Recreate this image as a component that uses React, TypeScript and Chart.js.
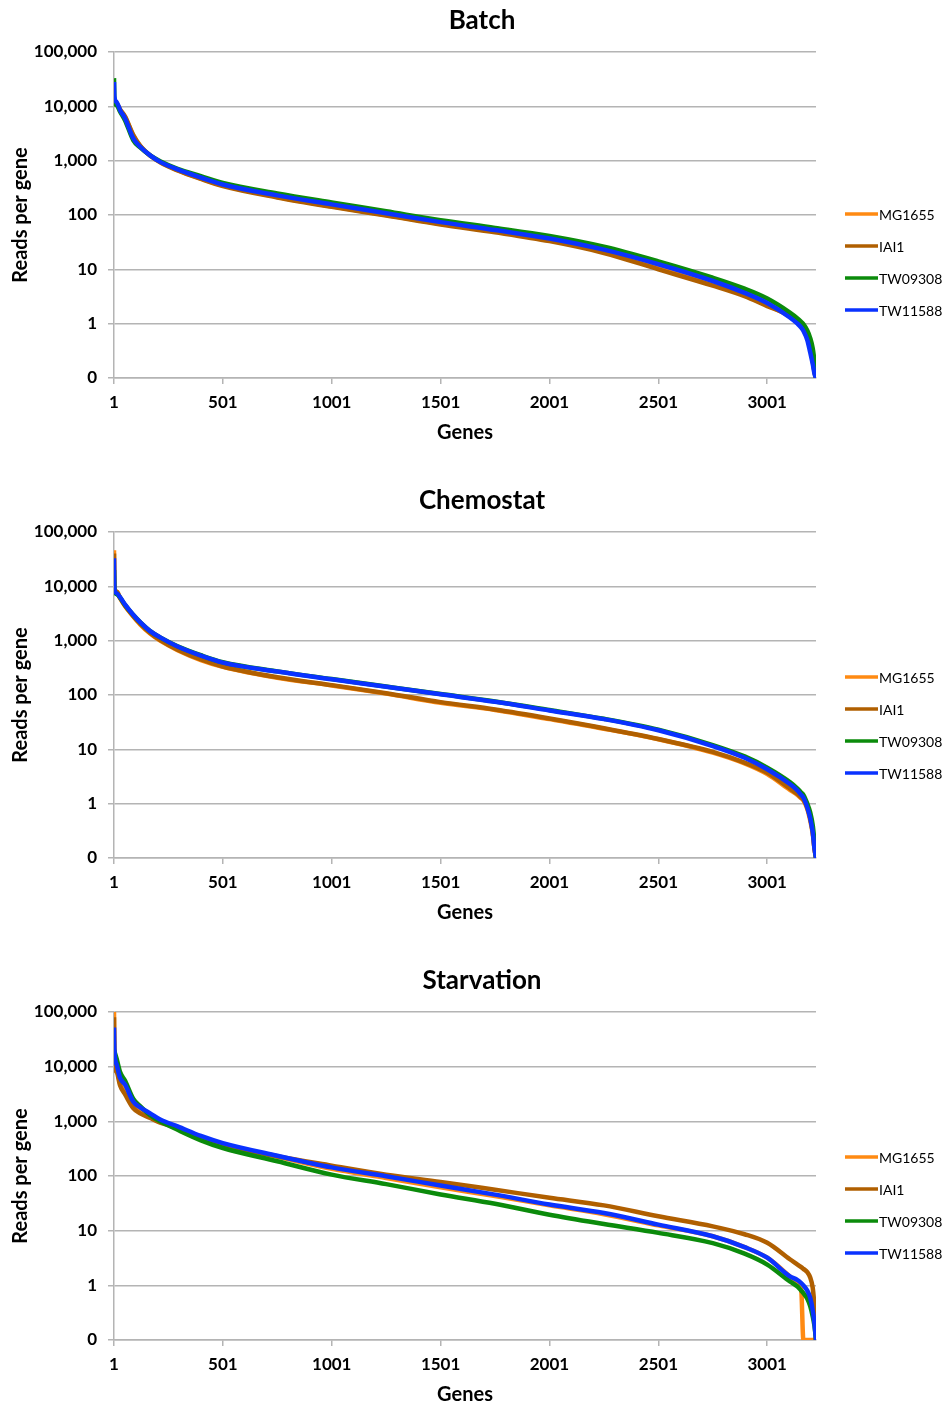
import React, { useEffect, useRef } from "react";
import { Chart, registerables } from "chart.js";
Chart.register(...registerables);

if (typeof document !== "undefined") {
  document.documentElement.style.overflow = "hidden";
  document.body.style.margin = "0";
}

const GENES = [1, 3, 13, 29, 52, 89, 121, 167, 213, 293, 400, 501, 751, 1001, 1251, 1501, 1751, 2001, 2251, 2501, 2751, 2897, 3001, 3105, 3140, 3157, 3167, 3185, 3198, 3210, 3218, 3225];
const X_TICKS = [1, 501, 1001, 1501, 2001, 2501, 3001];
const Y_TICKS = [0.1, 1, 10, 100, 1000, 10000, 100000];
const SERIES_NAMES = ["MG1655", "IAI1", "TW09308", "TW11588"];
const SERIES_COLORS = ["#FF8A12", "#B05F00", "#0B8B0B", "#0A32FF"];

// Batch
const BATCH_MG1655 = [12000, 11500, 11000, 8500, 6300, 2900, 1850, 1230, 940, 670, 470, 350, 215, 145, 100, 69, 50, 35, 21, 11, 5.4, 3.4, 2.2, 1.35, 1.05, 0.88, 0.78, 0.58, 0.38, 0.2, 0.13, 0.1];
const BATCH_IAI1 = [13000, 12500, 11500, 8800, 6500, 3000, 1900, 1250, 930, 660, 460, 340, 210, 141, 98, 67, 48, 33, 20, 10, 5.0, 3.2, 2.1, 1.4, 1.1, 0.9, 0.8, 0.6, 0.4, 0.22, 0.13, 0.1];
const BATCH_TW09308 = [33000, 12000, 10500, 8000, 5500, 2400, 1750, 1250, 980, 710, 520, 390, 250, 170, 117, 80, 58, 41, 26, 14, 7.0, 4.4, 2.9, 1.6, 1.25, 1.08, 0.98, 0.75, 0.55, 0.35, 0.2, 0.1];
const BATCH_TW11588 = [28000, 15000, 12000, 8500, 6000, 2600, 1800, 1250, 950, 690, 490, 365, 230, 157, 108, 74, 53, 37, 23, 12.4, 6.1, 3.7, 2.4, 1.3, 1.0, 0.85, 0.74, 0.5, 0.3, 0.18, 0.12, 0.1];

// Chemostat
const CHEMO_MG1655 = [46000, 9500, 7800, 6000, 4300, 2800, 2000, 1350, 1000, 670, 440, 330, 208, 150, 106, 72, 53, 36, 24, 15.3, 8.7, 5.5, 3.5, 1.8, 1.45, 1.25, 1.15, 0.8, 0.5, 0.28, 0.15, 0.1];
const CHEMO_IAI1 = [40000, 9000, 8000, 6200, 4400, 2850, 2050, 1380, 1020, 680, 450, 335, 212, 152, 108, 74, 54, 37, 24.5, 15.5, 9, 5.7, 3.7, 1.9, 1.5, 1.3, 1.2, 0.85, 0.55, 0.3, 0.15, 0.1];
const CHEMO_TW09308 = [20000, 8500, 7200, 6200, 4500, 3000, 2200, 1500, 1150, 790, 540, 400, 272, 197, 143, 104, 76, 53, 36.5, 23, 12, 7.4, 4.6, 2.5, 1.9, 1.6, 1.45, 1.0, 0.7, 0.4, 0.2, 0.1];
const CHEMO_TW11588 = [33000, 9000, 7500, 6300, 4600, 3000, 2200, 1500, 1150, 780, 530, 395, 270, 195, 142, 103, 75, 52, 36, 22.4, 11.5, 7.0, 4.3, 2.3, 1.75, 1.45, 1.3, 0.85, 0.55, 0.3, 0.15, 0.1];

// Starvation
const STARV_MG1655 = [100000, 15000, 9000, 5000, 3300, 2000, 1600, 1250, 1000, 760, 500, 370, 225, 135, 92, 62, 43, 29, 20, 12.5, 7.9, 5.0, 3.2, 1.46, 1.1, 0.85, 0.1, 0.1, 0.1, 0.1, 0.1, 0.1];
const STARV_IAI1 = [80000, 12000, 8000, 4500, 3100, 1750, 1400, 1150, 950, 760, 510, 370, 230, 155, 106, 78, 56, 40, 29, 18.3, 12, 8.6, 6.0, 3.0, 2.4, 2.15, 2.0, 1.75, 1.4, 0.9, 0.4, 0.1];
const STARV_TW09308 = [20000, 19000, 14000, 8000, 5500, 2600, 1900, 1300, 1000, 700, 450, 325, 186, 106, 71, 46, 31, 19.6, 13.2, 9.1, 5.9, 3.8, 2.4, 1.18, 0.95, 0.8, 0.72, 0.57, 0.42, 0.27, 0.18, 0.1];
const STARV_TW11588 = [52000, 20000, 11000, 6200, 4700, 2300, 1800, 1400, 1080, 810, 540, 400, 235, 144, 99, 67, 45.6, 30, 21, 12.9, 7.9, 5.0, 3.2, 1.46, 1.25, 1.1, 1.0, 0.8, 0.6, 0.35, 0.2, 0.1];

const FONT = "Lato, 'Open Sans', sans-serif";
const GRID = "#b4b4b4";

type PanelDef = {
  title: string;
  series: number[][];
  padBottom: number;
  legendTop: number;
};

const PANELS: PanelDef[] = [
  { title: "Batch", series: [BATCH_MG1655, BATCH_IAI1, BATCH_TW09308, BATCH_TW11588], padBottom: 52, legendTop: 206 },
  { title: "Chemostat", series: [CHEMO_MG1655, CHEMO_IAI1, CHEMO_TW09308, CHEMO_TW11588], padBottom: 52, legendTop: 189 },
  { title: "Starvation", series: [STARV_MG1655, STARV_IAI1, STARV_TW09308, STARV_TW11588], padBottom: 50, legendTop: 189 },
];

function Panel({ def }: { def: PanelDef }) {
  const ref = useRef<HTMLCanvasElement | null>(null);
  useEffect(() => {
    if (!ref.current) return;
    const decor = {
      id: "decor",
      afterDraw(chart: any) {
        const ctx = chart.ctx;
        const ca = chart.chartArea;
        ctx.save();
        ctx.fillStyle = "#000";
        ctx.textBaseline = "middle";
        // title
        ctx.textAlign = "center";
        ctx.font = `bold 26px ${FONT}`;
        ctx.fillText(def.title, 474, 13);
        // x title
        ctx.font = `bold 20px ${FONT}`;
        ctx.fillText("Genes", (ca.left + ca.right) / 2, ca.bottom + 55);
        // y title
        ctx.save();
        ctx.translate(13, (ca.top + ca.bottom) / 2);
        ctx.rotate(-Math.PI / 2);
        ctx.font = `bold 20px ${FONT}`;
        ctx.fillText("Reads per gene", 0, 0);
        ctx.restore();
        // legend
        ctx.textAlign = "left";
        ctx.font = `14px ${FONT}`;
        SERIES_NAMES.forEach((name, i) => {
          const y = def.legendTop + i * 32;
          ctx.strokeStyle = SERIES_COLORS[i];
          ctx.lineWidth = 3.5;
          ctx.beginPath();
          ctx.moveTo(837, y);
          ctx.lineTo(870, y);
          ctx.stroke();
          ctx.fillText(name, 871, y + 1);
        });
        ctx.restore();
      },
    };
    const chart = new Chart(ref.current, {
      type: "line",
      data: {
        datasets: SERIES_NAMES.map((name, i) => ({
          label: name,
          data: GENES.map((g, j) => ({ x: g, y: def.series[i][j] })),
          borderColor: SERIES_COLORS[i],
          backgroundColor: SERIES_COLORS[i],
          borderWidth: 4.5,
          pointRadius: 0,
          cubicInterpolationMode: "monotone",
          order: 4 - i,
        })),
      },
      options: {
        responsive: true,
        maintainAspectRatio: false,
        animation: false,
        layout: { padding: { top: 44, right: 129, bottom: def.padBottom, left: 0 } },
        plugins: {
          legend: { display: false },
          title: { display: false },
          tooltip: { enabled: false },
        },
        scales: {
          x: {
            type: "linear",
            min: 1,
            max: 3225,
            afterBuildTicks: (s: any) => {
              s.ticks = X_TICKS.map((v) => ({ value: v }));
            },
            afterFit: (s: any) => {
              s.height = 58;
            },
            grid: { drawOnChartArea: false, drawTicks: true, tickLength: 6, color: GRID, lineWidth: 1.5 },
            border: { color: GRID, width: 1.5 },
            ticks: {
              color: "#000",
              font: { family: FONT, size: 17, weight: "bold" },
              padding: 8,
              maxRotation: 0,
              autoSkip: false,
              callback: (v: any) => String(v),
            },
          },
          y: {
            type: "logarithmic",
            min: 0.1,
            max: 100000,
            afterBuildTicks: (s: any) => {
              s.ticks = Y_TICKS.map((v) => ({ value: v }));
            },
            afterFit: (s: any) => {
              s.width = 106;
            },
            grid: { color: GRID, lineWidth: 1.5, tickLength: 6 },
            border: { color: GRID, width: 1.5 },
            ticks: {
              color: "#000",
              font: { family: FONT, size: 17, weight: "bold" },
              padding: 11,
              callback: (v: any) => (Number(v) < 1 ? "0" : Number(v).toLocaleString("en-US")),
            },
          },
        },
      } as any,
      plugins: [decor],
    });
    return () => chart.destroy();
  }, [def]);
  return (
    <div style={{ position: "relative", height: 480, width: 937 }}>
      <canvas ref={ref} />
    </div>
  );
}

export default function App() {
  return (
    <div style={{ paddingTop: 8, paddingLeft: 8, width: 937 }}>
      {PANELS.map((p) => (
        <Panel key={p.title} def={p} />
      ))}
    </div>
  );
}
